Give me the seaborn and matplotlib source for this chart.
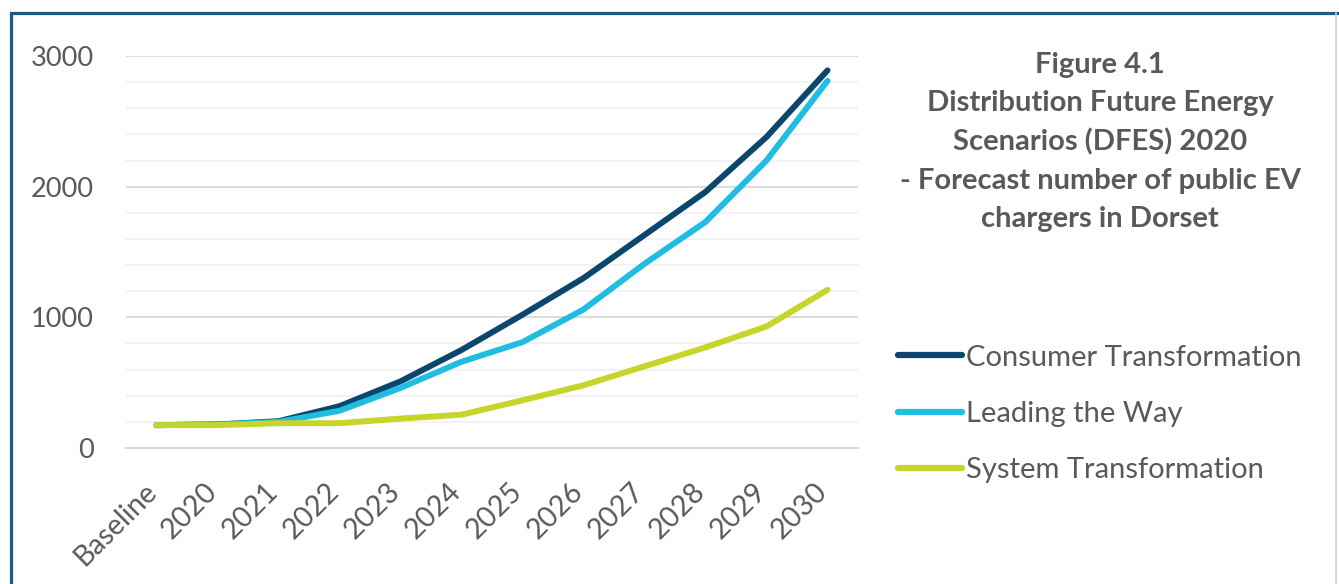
import matplotlib
matplotlib.use("Agg")
import matplotlib.pyplot as plt
import matplotlib.patches as patches
import matplotlib.transforms as mtransforms
from matplotlib.lines import Line2D
import seaborn as sns
import pandas as pd

# values (public EV chargers, Dorset)
categories = ["Baseline", "2020", "2021", "2022", "2023", "2024",
              "2025", "2026", "2027", "2028", "2029", "2030"]
consumer_transformation = [175, 180, 205, 320, 510, 750, 1020, 1300, 1630, 1960, 2380, 2890]
leading_the_way = [175, 180, 200, 285, 460, 660, 810, 1060, 1410, 1730, 2200, 2810]
system_transformation = [175, 175, 190, 190, 225, 255, 365, 480, 625, 770, 930, 1210]
series_names = ["Consumer Transformation", "Leading the Way", "System Transformation"]
colors = ["#0b466d", "#1fbde0", "#c6d52a"]

df = pd.concat([
    pd.DataFrame({"Year": categories, "Chargers": vals, "Scenario": name})
    for name, vals in zip(series_names,
                          [consumer_transformation, leading_the_way, system_transformation])
])

sns.set_theme(style="white")
plt.rcParams["font.family"] = ["Lato", "DejaVu Sans"]
grey_text = "#595959"

W, H = 1339, 584
fig = plt.figure(figsize=(W / 100, H / 100), dpi=100)
ax = fig.add_axes([126 / W, 1 - 448 / H, (858 - 126) / W, (448 - 56) / H])

sns.lineplot(data=df, x="Year", y="Chargers", hue="Scenario", palette=colors,
             hue_order=series_names, sort=False, linewidth=4.3,
             solid_capstyle="round", ax=ax, legend=False)

ax.set_xlim(-0.5, len(categories) - 0.5)
ax.set_ylim(0, 3000)
ax.set_yticks([0, 1000, 2000, 3000])
ax.set_yticks(range(0, 3001, 200), minor=True)
ax.set_xticks(range(len(categories)))
ax.set_xticklabels(categories, rotation=45, ha="right", va="top")
ax.set_xticks([i - 0.5 for i in range(len(categories) + 1)], minor=True)
ax.set_xlabel("")
ax.set_ylabel("")

ax.grid(axis="y", which="major", color="#d9d9d9", linewidth=1.3)
ax.grid(axis="y", which="minor", color="#f0f0f0", linewidth=1.2)
ax.set_axisbelow(True)
for s in ["top", "right", "left"]:
    ax.spines[s].set_visible(False)
ax.spines["bottom"].set_color("#d9d9d9")
ax.spines["bottom"].set_linewidth(1.5)

ax.tick_params(axis="y", which="both", length=0, pad=23, labelsize=19.5, labelcolor=grey_text)
ax.tick_params(axis="x", which="major", length=0, pad=22, labelsize=20.5, labelcolor=grey_text)
ax.tick_params(axis="x", which="minor", length=9, width=1.2, color="#d9d9d9", direction="out")

# nudge x labels a little to the right, like the original
shift = mtransforms.ScaledTranslation(5 / 100, 0, fig.dpi_scale_trans)
for lbl in ax.get_xticklabels():
    lbl.set_transform(lbl.get_transform() + shift)

# title block on the right
title_lines = ["Figure 4.1", "Distribution Future Energy", "Scenarios (DFES) 2020",
               "- Forecast number of public EV", "chargers in Dorset"]
fig.text(1100 / W, 1 - 142 / H, "\n".join(title_lines), ha="center", va="center",
         fontsize=21, fontweight="bold", color=grey_text, linespacing=1.58)

# legend
handles = [Line2D([], [], color=c, linewidth=4.5, solid_capstyle="round") for c in colors]
ax.legend(handles, series_names, loc="center left", bbox_to_anchor=(898 / W, 1 - 414 / H),
          bbox_transform=fig.transFigure, frameon=False, fontsize=21, labelcolor=grey_text,
          handlelength=2.2, handletextpad=0.12, labelspacing=1.04,
          borderpad=0, borderaxespad=0)

# frame around the whole figure
fig.patches.append(patches.Rectangle((11 / W, -0.1), 1.2, 1 - 13 / H + 0.1,
                                     transform=fig.transFigure, fill=False,
                                     edgecolor="#1e5a82", linewidth=2.3))
fig.lines.append(Line2D([1336 / W, 1336 / W], [0, 1 - 13 / H], transform=fig.transFigure,
                        color="#d0d0d0", linewidth=1.2))

fig.savefig("out.png", dpi=100)
